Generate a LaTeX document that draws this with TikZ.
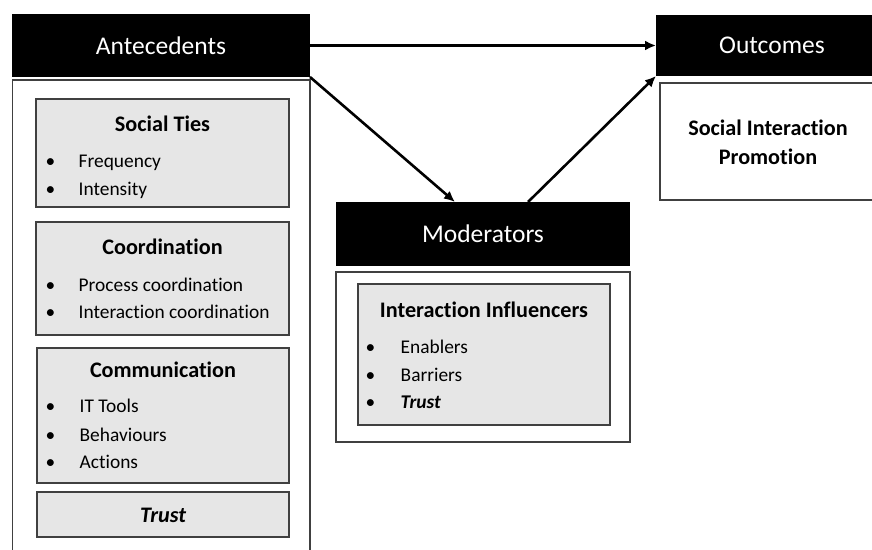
\documentclass[tikz,border=0pt]{standalone}
\usepackage{fontspec}
\setmainfont{Carlito}[Ligatures=NoCommon]
\usetikzlibrary{arrows.meta,positioning}

\definecolor{boxgray}{HTML}{E6E6E6}
\definecolor{edgegray}{HTML}{404040}

\begin{document}
\begin{tikzpicture}[x=1pt, y=-1pt,
    header/.style={fill=black, text=white, anchor=north west, inner sep=0, outer sep=0, font=\fontsize{25.5}{30}\selectfont},
    panel/.style={draw=edgegray, fill=white, line width=1.1pt, anchor=north west, inner sep=0, outer sep=0},
    itembox/.style={draw=edgegray, fill=boxgray, line width=1.1pt, anchor=north west, inner sep=0, outer sep=0},
    boxtitle/.style={anchor=base, inner sep=0, font=\bfseries\fontsize{22.2}{26}\selectfont},
    entry/.style={anchor=base west, inner sep=0, font=\fontsize{19.4}{23}\selectfont},
    link/.style={-{Latex[length=11pt,width=10pt]}, line width=2.6pt}]

    \useasboundingbox (0,0) rectangle (872,549);

        % Headers
    \node (ante) [header, minimum width=298, minimum height=63] at (12,14) {Antecedents};
    \node (moder) [header, minimum width=294, minimum height=64] at (336,202) {Moderators};
    \node (outc) [header, minimum width=232, minimum height=61] at (656,15) {Outcomes};

        % Panels
    \node (antepanel) [panel, minimum width=297.5, minimum height=480] at (12.5,80) {};
    \node (moderpanel) [panel, minimum width=294, minimum height=170] at (336,272) {};
    \node (outcpanel) [panel, minimum width=228, minimum height=117] at (660,83) {};

        % Antecedents
    \node (ties) [itembox, minimum width=253, minimum height=108] at (36,99) {};
    \node (tiestitle) [boxtitle] at (162.5,131) {Social Ties};
    \node (freq) [entry] at (45.5,167) {\makebox[33pt][l]{•}Frequency};
    \node (inten) [entry] at (45.5,195) {\makebox[33pt][l]{•}Intensity};

    \node (coord) [itembox, minimum width=253, minimum height=113] at (36,222) {};
    \node (coordtitle) [boxtitle] at (162.5,254) {Coordination};
    \node (process) [entry] at (45.5,291) {\makebox[33pt][l]{•}Process coordination};
    \node (interact) [entry] at (45.5,318) {\makebox[33pt][l]{•}Interaction coordination};

    \node (comm) [itembox, minimum width=252, minimum height=135] at (37,348) {};
    \node (commtitle) [boxtitle] at (163,377) {Communication};
    \node (tools) [entry] at (45.5,412) {\makebox[34pt][l]{•}IT Tools};
    \node (behav) [entry] at (45.5,441) {\makebox[34pt][l]{•}Behaviours};
    \node (actions) [entry] at (45.5,468) {\makebox[34pt][l]{•}Actions};

    \node (trust) [itembox, minimum width=252, minimum height=45] at (37,492) {};
    \node (trusttitle) [boxtitle] at (163,522) {\itshape Trust};

        % Moderators
    \node (influ) [itembox, minimum width=252, minimum height=141] at (358,284) {};
    \node (influtitle) [boxtitle] at (484,317) {Interaction Influencers};
    \node (enab) [entry] at (365.5,353) {\makebox[35pt][l]{•}Enablers};
    \node (barr) [entry] at (365.5,381) {\makebox[35pt][l]{•}Barriers};
    \node (mtrust) [entry] at (365.5,408) {\makebox[35pt][l]{•}\textbf{\itshape Trust}};

        % Outcomes
    \node (promo) [boxtitle, align=center, font=\bfseries\fontsize{22.2}{29}\selectfont, anchor=center] at (768,142) {Social Interaction\\Promotion};

        % Arrows
    \coordinate (modin) at ([xshift=-28pt]moder.north);
    \coordinate (modout) at ([xshift=45pt]moder.north);
    \draw [link] (ante.east) -- (outc.west);
    \draw [link] (ante.south east) -- (modin);
    \draw [link] (modout) -- (outc.south west);

\end{tikzpicture}
\end{document}
